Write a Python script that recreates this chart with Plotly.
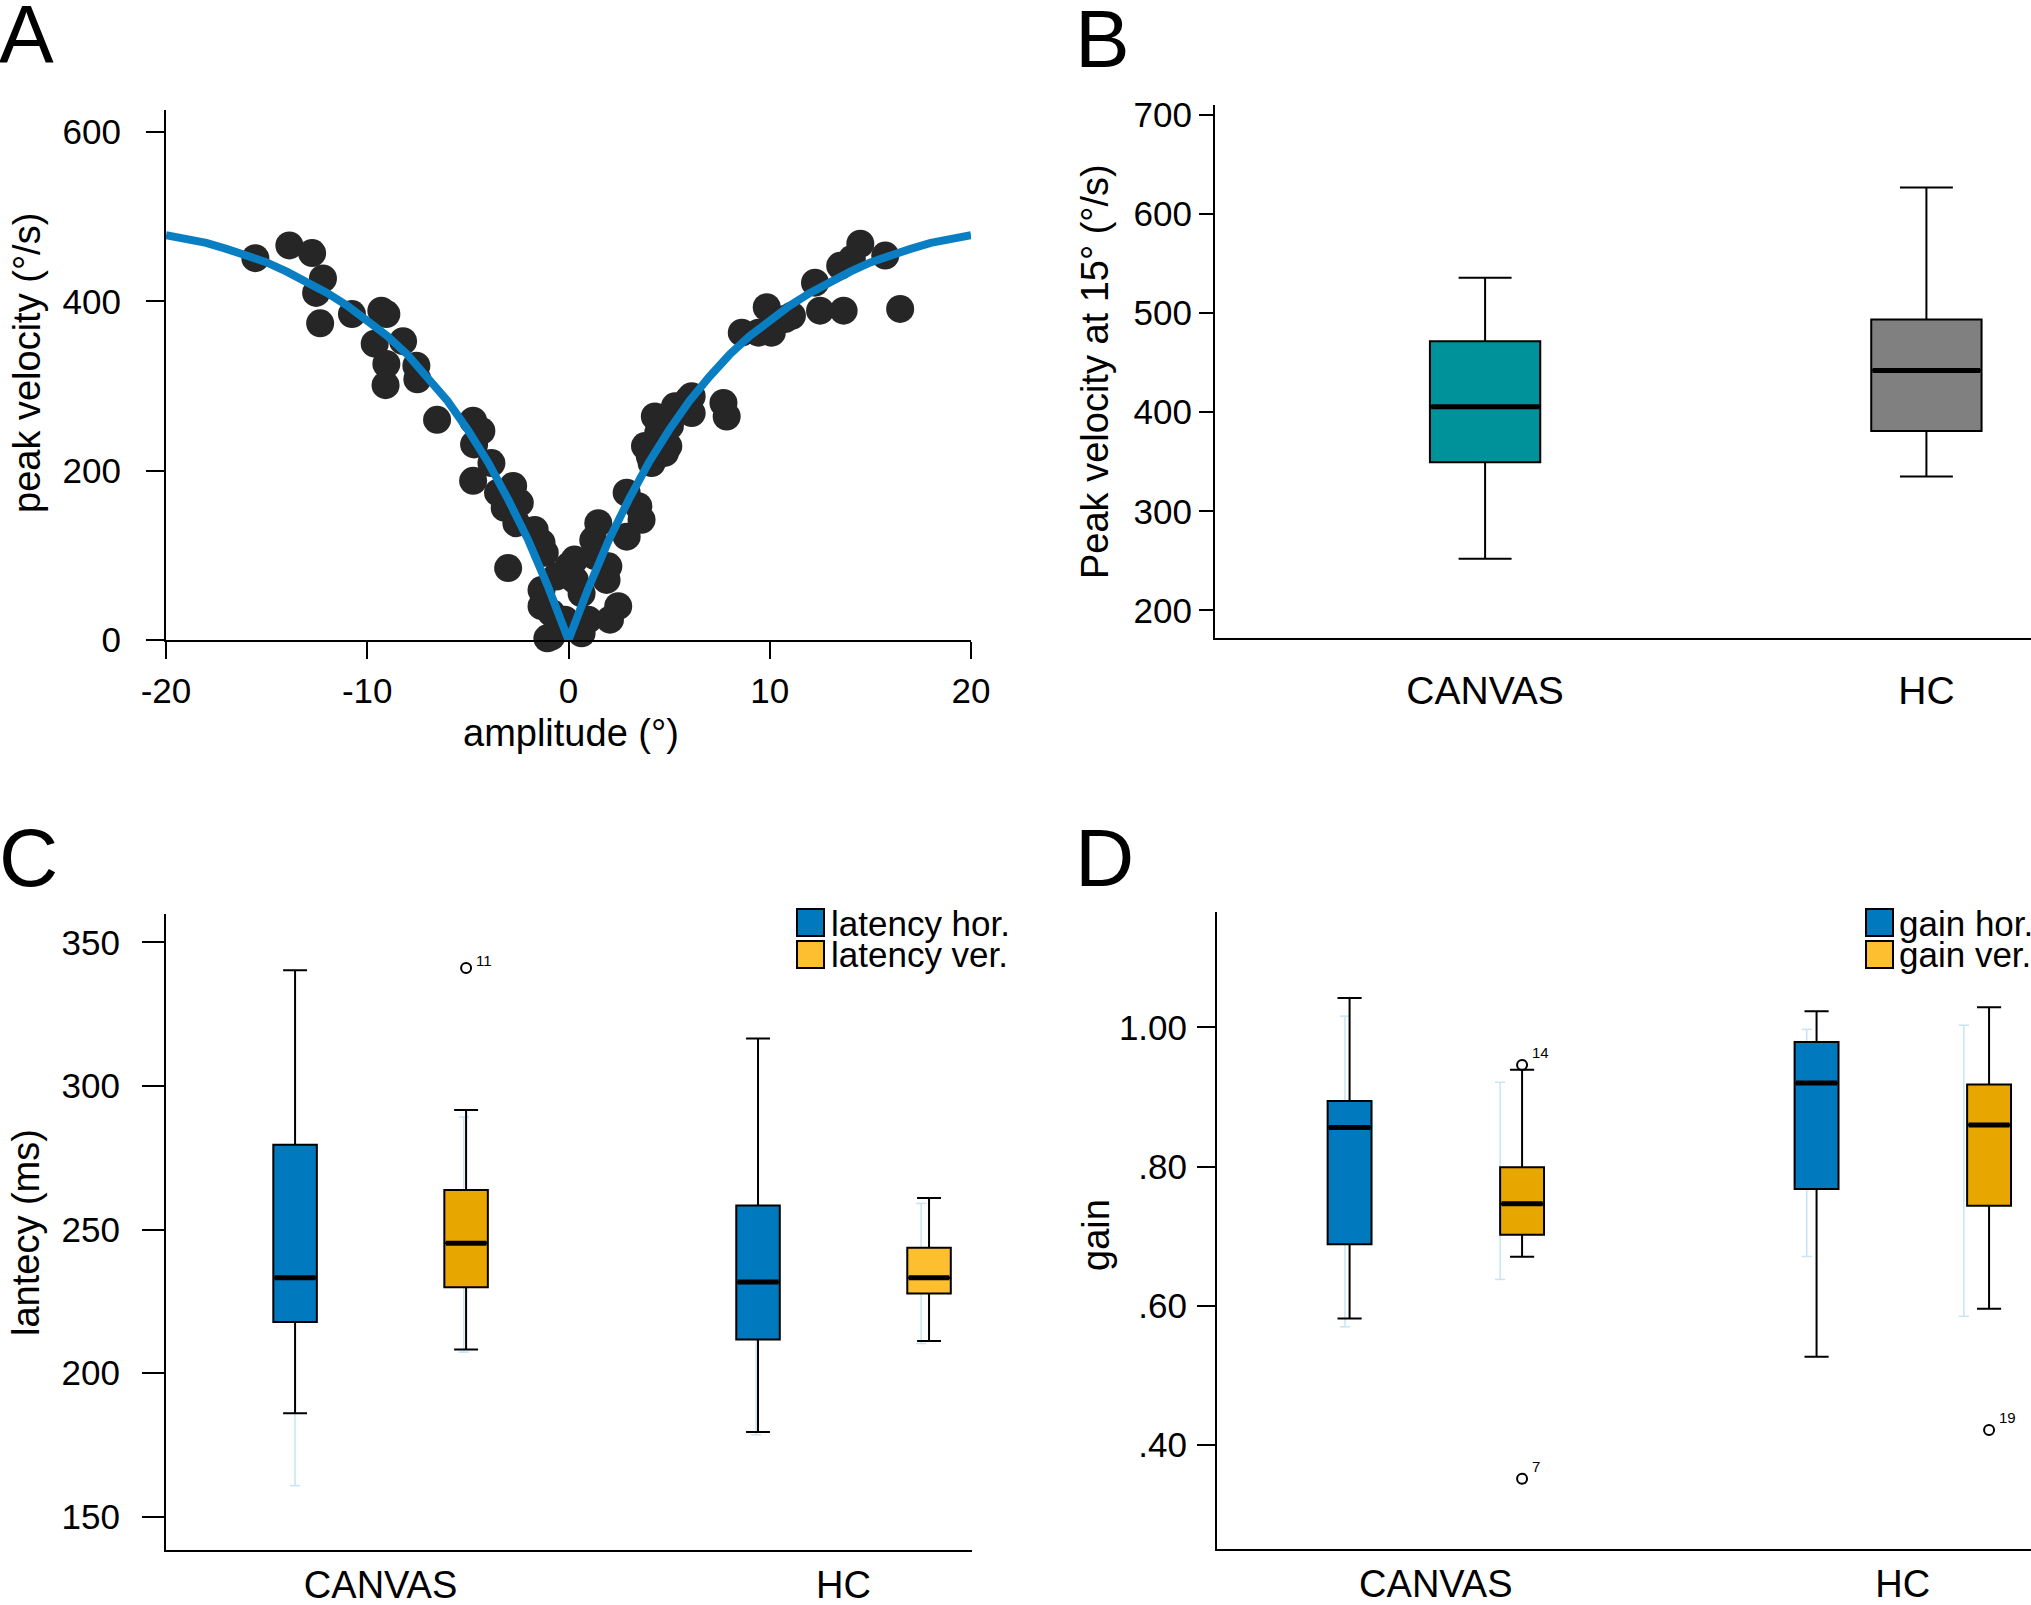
import plotly.graph_objects as go

W, H = 2031, 1605
FONT = "Liberation Sans, Arial, sans-serif"

# ---------------- Panel A: main sequence ----------------
amp_deg = [-15.56, -13.87, -12.74, -12.2, -12.54, -12.34, -10.76, -9.3, -9.05, -9.63,
           -8.22, -9.05, -9.09, -7.56, -7.51, -6.53, -4.74, -4.33, -4.69, -3.83,
           -4.74, -2.75, -3.5, -3.17, -2.42, -2.59, -1.68, -1.34, -3.0, -1.18,
           -1.34, -1.34, -0.85, -0.85, 0.0, 0.31, 0.65, 0.65, 0.98, -0.18,
           1.23, 1.48, 1.98, 1.89, 2.47, 2.06, 2.89, 3.47, 3.63, 2.89,
           4.04, 4.96, 4.46, 5.29, 5.96, 4.29, 3.8, 1.31, 4.13, 4.79,
           5.04, 6.12, 6.12, 7.7, 7.86, 8.61, 9.85, 10.1, 11.1, 12.25,
           12.5, 13.67, 13.5, 14.5, 15.74, 16.48, 14.08, 10.76, 9.44, -0.6,
           0.3, -1.05]
peak_vel = [451, 466, 457, 427, 410, 374, 385, 389, 385, 350,
            353, 326, 301, 324, 308, 260, 259, 247, 231, 209,
            188, 182, 174, 156, 162, 138, 130, 115, 85, 103,
            59, 40, 32, 4, 87, 71, 55, 8, 24, 24,
            118, 138, 87, 71, 40, 24, 174, 158, 142, 122,
            217, 229, 245, 276, 284, 264, 229, 99, 209, 221,
            253, 288, 268, 280, 264, 363, 393, 363, 383, 422,
            389, 389, 442, 468, 454, 391, 450, 379, 363, 75,
            95, 2]
fit_amp = list(range(-20, 21))
fit_vel = [478, 474, 469, 462, 455, 446, 435, 423, 410, 395, 378, 359, 337, 311, 282, 248, 210, 166, 118, 62,
           0,
           62, 118, 166, 210, 248, 282, 311, 337, 359, 378, 395, 410, 423, 435, 446, 455, 462, 469, 474, 478]
amp_ticks = [-20, -10, 0, 10, 20]
amp_ticktext = ["-20", "-10", "0", "10", "20"]

# ---------------- Panel B: peak velocity at 15 deg ----------------
groups = ["CANVAS", "HC"]
pv_lower = [252, 335]
pv_q1 = [349.5, 381]
pv_med = [405.5, 442]
pv_q3 = [471.5, 493.5]
pv_upper = [535.5, 626.5]

# ---------------- Panel C: latency ----------------
lat_hor_lower = [186.0, 179.5]
lat_hor_q1 = [217.8, 211.7]
lat_hor_med = [233.2, 231.7]
lat_hor_q3 = [279.5, 258.4]
lat_hor_upper = [340.3, 316.5]
lat_ver_lower = [208.2, 211.2]
lat_ver_q1 = [229.9, 227.7]
lat_ver_med = [245.2, 233.2]
lat_ver_q3 = [263.8, 243.7]
lat_ver_upper = [291.6, 261.0]
lat_out_group = [0]
lat_out_value = [341.1]
lat_out_label = ["11"]
lat_hor_faint_lo = [160.8, 178.5]
lat_hor_faint_hi = [250.0, 240.0]
lat_ver_faint_lo = [207.3, 210.3]
lat_ver_faint_hi = [289.2, 259.1]

# ---------------- Panel D: gain ----------------
gain_hor_lower = [0.582, 0.527]
gain_hor_q1 = [0.6885, 0.768]
gain_hor_med = [0.856, 0.920]
gain_hor_q3 = [0.894, 0.979]
gain_hor_upper = [1.042, 1.023]
gain_ver_lower = [0.6706, 0.596]
gain_ver_q1 = [0.702, 0.7437]
gain_ver_med = [0.7465, 0.8597]
gain_ver_q3 = [0.799, 0.9177]
gain_ver_upper = [0.939, 1.0286]
gain_out_group = [0, 0, 1]
gain_out_value = [0.946, 0.352, 0.422]
gain_out_label = ["14", "7", "19"]
gain_hor_faint_lo = [0.570, 0.671]
gain_hor_faint_hi = [1.016, 0.997]
gain_ver_faint_lo = [0.638, 0.585]
gain_ver_faint_hi = [0.921, 1.003]

# ---------------- styles ----------------
BLUE = "#0079BF"
ORANGE = "#E8A600"
ORANGE_LIGHT = "#FDBE30"
TEAL = "#00929A"
GRAY = "#808080"
FAINT = "#C8E4F6"
CURVE = "#0A7EC2"
DOT = "#262626"

GROUP_POS = [0, 1]
OFFSET = 0.1847
BOX_W = 0.094
B_BOX_W = 0.25
FAINT_OFF_C = [[0.0, -0.005], [-0.004, -0.017]]   # [hor, ver] per group
FAINT_OFF_D = [[-0.010, -0.047], [-0.021, -0.054]]
FAINT_CAP = 0.022


def px_x(p):
    return p / W


def px_y(p):
    return 1 - p / H


fig = go.Figure()
shapes = []

# ---- Panel A ----
fig.add_trace(go.Scatter(x=amp_deg, y=peak_vel, mode="markers",
                         marker=dict(size=28, color=DOT, line=dict(width=0)),
                         cliponaxis=False, xaxis="x", yaxis="y", showlegend=False))
fig.add_trace(go.Scatter(x=fit_amp, y=fit_vel, mode="lines",
                         line=dict(color=CURVE, width=8),
                         cliponaxis=False, xaxis="x", yaxis="y", showlegend=False))


# ---- helpers ----
def add_box(xpos, lo, q1, med, q3, hi, width, color, ax, ww=0.55):
    fig.add_trace(go.Box(x=[xpos], lowerfence=[lo], q1=[q1], median=[med], q3=[q3],
                         upperfence=[hi], width=width, whiskerwidth=ww,
                         fillcolor=color, line=dict(color="black", width=2),
                         boxpoints=False, xaxis="x" + ax, yaxis="y" + ax,
                         showlegend=False, hoverinfo="skip"))
    fig.add_trace(go.Scatter(x=[xpos - width / 2 + 0.003, xpos + width / 2 - 0.003], y=[med, med],
                             mode="lines", line=dict(color="black", width=5),
                             xaxis="x" + ax, yaxis="y" + ax, showlegend=False, hoverinfo="skip"))


def add_faint(xpos, lo, hi, ax):
    ln = dict(color=FAINT, width=1.5)
    base = dict(type="line", xref="x" + ax, yref="y" + ax, layer="below", line=ln)
    shapes.append(dict(base, x0=xpos, x1=xpos, y0=lo, y1=hi))
    shapes.append(dict(base, x0=xpos - FAINT_CAP / 2, x1=xpos + FAINT_CAP / 2, y0=lo, y1=lo))
    shapes.append(dict(base, x0=xpos - FAINT_CAP / 2, x1=xpos + FAINT_CAP / 2, y0=hi, y1=hi))


# ---- Panel B ----
b_colors = [TEAL, GRAY]
for i, g in enumerate(groups):
    add_box(GROUP_POS[i], pv_lower[i], pv_q1[i], pv_med[i], pv_q3[i], pv_upper[i],
            B_BOX_W, b_colors[i], "2", ww=0.48)

# ---- Panel C ----
ver_colors_c = [ORANGE, ORANGE_LIGHT]
for i in range(2):
    add_faint(GROUP_POS[i] - OFFSET + FAINT_OFF_C[i][0], lat_hor_faint_lo[i], lat_hor_faint_hi[i], "3")
    add_faint(GROUP_POS[i] + OFFSET + FAINT_OFF_C[i][1], lat_ver_faint_lo[i], lat_ver_faint_hi[i], "3")
for i in range(2):
    add_box(GROUP_POS[i] - OFFSET, lat_hor_lower[i], lat_hor_q1[i], lat_hor_med[i], lat_hor_q3[i],
            lat_hor_upper[i], BOX_W, BLUE, "3")
    add_box(GROUP_POS[i] + OFFSET, lat_ver_lower[i], lat_ver_q1[i], lat_ver_med[i], lat_ver_q3[i],
            lat_ver_upper[i], BOX_W, ver_colors_c[i], "3")
fig.add_trace(go.Scatter(x=[GROUP_POS[g] + OFFSET for g in lat_out_group], y=lat_out_value,
                         mode="markers", marker=dict(symbol="circle-open", size=10, color="black",
                                                     line=dict(width=2, color="black")),
                         xaxis="x3", yaxis="y3", showlegend=False, cliponaxis=False))

# ---- Panel D ----
for i in range(2):
    add_faint(GROUP_POS[i] - OFFSET + FAINT_OFF_D[i][0], gain_hor_faint_lo[i], gain_hor_faint_hi[i], "4")
    add_faint(GROUP_POS[i] + OFFSET + FAINT_OFF_D[i][1], gain_ver_faint_lo[i], gain_ver_faint_hi[i], "4")
for i in range(2):
    add_box(GROUP_POS[i] - OFFSET, gain_hor_lower[i], gain_hor_q1[i], gain_hor_med[i], gain_hor_q3[i],
            gain_hor_upper[i], BOX_W, BLUE, "4")
    add_box(GROUP_POS[i] + OFFSET, gain_ver_lower[i], gain_ver_q1[i], gain_ver_med[i], gain_ver_q3[i],
            gain_ver_upper[i], BOX_W, ORANGE, "4")
fig.add_trace(go.Scatter(x=[GROUP_POS[g] + OFFSET for g in gain_out_group], y=gain_out_value,
                         mode="markers", marker=dict(symbol="circle-open", size=10, color="black",
                                                     line=dict(width=2, color="black")),
                         xaxis="x4", yaxis="y4", showlegend=False, cliponaxis=False))

# ---------------- axes ----------------
tickfont = dict(family=FONT, size=35, color="black")
catfont = dict(family=FONT, size=39, color="black")
catfont_low = dict(family=FONT, size=38, color="black")
common = dict(showline=True, linecolor="black", linewidth=2, showgrid=False, zeroline=False,
              tickcolor="black", tickwidth=2, automargin=False)

fig.update_layout(
    template="none",
    width=W, height=H, margin=dict(l=0, r=0, t=0, b=0, pad=0),
    paper_bgcolor="white", plot_bgcolor="rgba(0,0,0,0)", showlegend=False, boxmode="overlay",
    xaxis=dict(domain=[px_x(166), px_x(971)], range=[-20, 20], anchor="y",
               tickvals=amp_ticks, ticktext=amp_ticktext, ticks="outside", ticklen=17,
               ticklabelstandoff=2, tickfont=tickfont, **common),
    yaxis=dict(domain=[px_y(640), px_y(110)], range=[0, 626], anchor="x",
               tickvals=[0, 200, 400, 600], ticks="outside", ticklen=18,
               ticklabelstandoff=18, tickfont=tickfont, **common),
    xaxis2=dict(domain=[px_x(1215), 1.0], range=[-0.612, 1.237], anchor="y2",
                tickvals=GROUP_POS, ticktext=groups, ticks="", ticklabelstandoff=17,
                tickfont=catfont, **common),
    yaxis2=dict(domain=[px_y(638), px_y(105)], range=[172.2, 709.7], anchor="x2",
                tickvals=[200, 300, 400, 500, 600, 700], ticks="outside", ticklen=14,
                ticklabelstandoff=0, tickfont=tickfont, **common),
    xaxis3=dict(domain=[px_x(166), px_x(972)], range=[-0.4635, 1.2775], anchor="y3",
                tickvals=GROUP_POS, ticktext=groups, ticks="", ticklabelstandoff=0,
                tickfont=catfont_low, **common),
    yaxis3=dict(domain=[px_y(1550), px_y(914)], range=[138.4, 359.9], anchor="x3",
                tickvals=[150, 200, 250, 300, 350], ticks="outside", ticklen=22,
                ticklabelstandoff=15, tickfont=tickfont, **common),
    xaxis4=dict(domain=[px_x(1217), 1.0], range=[-0.4686, 1.2745], anchor="y4",
                tickvals=GROUP_POS, ticktext=groups, ticks="", ticklabelstandoff=0,
                tickfont=catfont_low, **common),
    yaxis4=dict(domain=[px_y(1549), px_y(912)], range=[0.251, 1.1655], anchor="x4",
                tickvals=[0.4, 0.6, 0.8, 1.0], ticktext=[".40", ".60", ".80", "1.00"],
                ticks="outside", ticklen=18, ticklabelstandoff=3, tickfont=tickfont, **common),
)

# ---------------- annotations ----------------
ann = []
titlefont = dict(family=FONT, size=38, color="black")
letterfont = dict(family=FONT, size=82, color="black")


def txt(x, y, text, font, angle=0, xanchor="center", yanchor="middle"):
    ann.append(dict(x=px_x(x), y=px_y(y), xref="paper", yref="paper", text=text,
                    showarrow=False, font=font, textangle=angle,
                    xanchor=xanchor, yanchor=yanchor))


# panel letters
txt(-3, 33, "A", letterfont, xanchor="left")
txt(1073, 38, "B", letterfont, xanchor="left")
txt(-3, 857, "C", letterfont, xanchor="left")
txt(1073, 857, "D", letterfont, xanchor="left")

# axis titles
txt(27, 363, "peak velocity (°/s)", titlefont, angle=-90)
txt(571, 733, "amplitude (°)", titlefont)
txt(1095, 372, "Peak velocity at 15° (°/s)", titlefont, angle=-90)
txt(26, 1233, "lantecy (ms)", titlefont, angle=-90)
txt(1096, 1235, "gain", titlefont, angle=-90)

# legends (squares + text)
legfont = dict(family=FONT, size=35, color="black")
for (sx, tx, labels) in [(797, 829, ["latency hor.", "latency ver."]),
                         (1866, 1897, ["gain hor.", "gain ver."])]:
    for k, (col, lab) in enumerate(zip([BLUE, ORANGE_LIGHT], labels)):
        y0 = 909 + k * 32
        shapes.append(dict(type="rect", xref="paper", yref="paper",
                           x0=px_x(sx), x1=px_x(sx + 27), y0=px_y(y0 + 27), y1=px_y(y0),
                           fillcolor=col, line=dict(color="black", width=2)))
        txt(tx, y0 + 14, lab, legfont, xanchor="left")

# outlier labels
smallfont = dict(family=FONT, size=15, color="black")
for g, v, lab in zip(lat_out_group, lat_out_value, lat_out_label):
    ann.append(dict(x=GROUP_POS[g] + OFFSET, y=v, xref="x3", yref="y3", text=lab,
                    showarrow=False, font=smallfont, xanchor="left", yanchor="middle",
                    xshift=8, yshift=7))
for g, v, lab in zip(gain_out_group, gain_out_value, gain_out_label):
    ann.append(dict(x=GROUP_POS[g] + OFFSET, y=v, xref="x4", yref="y4", text=lab,
                    showarrow=False, font=smallfont, xanchor="left", yanchor="middle",
                    xshift=8, yshift=12))

fig.update_layout(annotations=ann, shapes=shapes)
fig.write_html("out.html")
